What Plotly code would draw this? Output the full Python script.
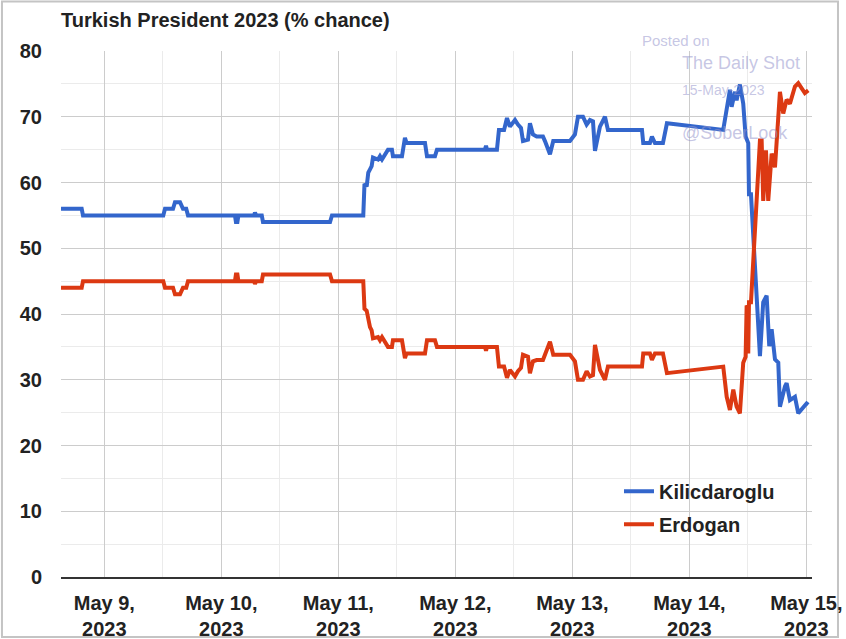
import pandas as pd
import plotly.graph_objects as go

BASE = pd.Timestamp("2023-05-09 00:00")

# Hours after May 9, 2023 00:00 and % chance
kil_hours = [-8.88, -4.64, -4.37, 12.10, 12.45, 14.09, 14.50, 15.53, 16.14, 16.80, 17.17,
             26.80, 27.00, 27.30, 27.50, 30.70, 30.90, 31.20, 32.30, 32.55, 46.30, 46.70,
             53.12, 53.37, 53.82, 54.15, 54.50, 54.84, 55.11, 56.14, 56.55, 56.96, 57.37,
             58.19, 59.00, 59.21, 61.06, 61.67, 62.00, 65.78, 66.19, 67.83, 68.24, 78.08,
             78.30, 78.50, 80.54, 80.95, 82.00, 82.60, 83.20, 84.24, 84.85, 85.47, 85.88,
             86.90, 87.31, 87.93, 88.69, 89.98, 90.39, 91.42, 92.09, 95.52, 96.54, 97.16,
             98.19, 98.94, 99.62, 100.24, 100.65, 101.06, 101.67, 102.70, 103.31, 110.29,
             110.55, 111.92, 112.33, 112.95, 114.59, 115.41, 126.96, 128.33, 128.68, 129.36,
             129.70, 130.38, 131.06, 131.55, 132.09, 132.24, 132.65, 134.49, 135.16, 135.86,
             136.40, 136.89, 137.57, 138.25, 138.59, 139.62, 139.96, 140.64, 141.67, 142.35,
             143.37, 144.06, 144.40]
kil_values = [56, 56, 55, 55, 56, 56, 57, 57, 56, 56, 55,
              55, 54, 54, 55, 55, 55.4, 55, 55, 54, 54, 55,
              55, 59.8, 59.4, 61.5, 62, 62.5, 63.8, 63.5, 64, 63.5, 64,
              65, 65, 64, 64, 66.8, 66, 66, 64, 64, 65, 65,
              65.6, 65, 65, 68, 68, 69.8, 68.5, 69.5, 68.8, 68.3, 66.3,
              66.5, 69, 67.3, 67, 67, 66.3, 64.3, 66.3, 66.3, 67.3, 70,
              70, 68.8, 69.5, 69.3, 64.8, 66.3, 68.5, 70, 68, 68,
              66, 66, 67, 66, 66, 69, 68, 74.1, 71.5, 73.8,
              72.5, 74.9, 72, 67, 66, 58.2, 58.2, 33.6, 41.8, 42.8,
              35.1, 37.7, 33.1, 32.6, 25.9, 29, 29.5, 26.9, 27.4, 24.9,
              25.9, 26.4, 26.2]

erd_hours = [-8.88, -4.64, -4.37, 12.10, 12.45, 14.09, 14.50, 15.53, 16.14, 16.80, 17.17,
             26.80, 27.00, 27.30, 27.50, 30.70, 30.90, 31.20, 32.30, 32.55, 46.30, 46.70,
             53.12, 53.37, 53.82, 54.15, 54.50, 54.84, 55.11, 56.14, 56.55, 56.96, 57.37,
             58.19, 59.00, 59.21, 61.06, 61.67, 62.00, 65.78, 66.19, 67.83, 68.24, 78.08,
             78.30, 78.50, 80.54, 80.95, 82.00, 82.60, 83.20, 84.24, 84.85, 85.47, 85.88,
             86.90, 87.31, 87.93, 88.69, 89.98, 90.39, 91.42, 92.09, 95.52, 96.54, 97.16,
             98.19, 98.94, 99.62, 100.24, 100.65, 101.06, 101.67, 102.70, 103.31, 110.29,
             110.55, 111.92, 112.33, 112.95, 114.59, 115.41, 126.96, 127.67, 128.33, 129.02,
             129.70, 130.38, 131.06, 131.55, 131.76, 132.00, 132.09, 132.24, 132.65, 134.49,
             134.84, 135.16, 135.72, 136.19, 136.89, 137.57, 137.91, 138.59, 139.27, 139.96,
             140.64, 141.67, 142.35, 143.04, 143.70, 144.40]
erd_values = [44, 44, 45, 45, 44, 44, 43, 43, 44, 44, 45,
              45, 46, 46, 45, 45, 44.6, 45, 45, 46, 46, 45,
              45, 40.8, 40.5, 38.8, 38, 37.5, 36.3, 36.5, 36, 36.5, 36,
              35, 35, 36, 36, 33.3, 34, 34, 36, 36, 35, 35,
              34.4, 35, 35, 32, 32, 30.3, 31.5, 30.5, 31.3, 31.8, 33.8,
              33.5, 31, 32.8, 33, 33, 33.8, 35.8, 33.8, 33.8, 32.8, 30,
              30, 31.3, 30.5, 30.7, 35.3, 33.8, 31.5, 30, 32, 32,
              34, 34, 33, 34, 34, 31, 32, 27.4, 25.4, 28.5,
              25.9, 24.9, 32.6, 33.5, 41.3, 41, 34, 41.8, 41.8, 66.4,
              66.4, 57.2, 64.9, 57.2, 64.4, 62.3, 66.9, 73.8, 70.5, 72.6,
              72, 74.6, 75.1, 74.4, 73.6, 74]

tick_dates = ["2023-05-09", "2023-05-10", "2023-05-11", "2023-05-12",
              "2023-05-13", "2023-05-14", "2023-05-15"]
tick_labels = ["May 9,<br>2023", "May 10,<br>2023", "May 11,<br>2023", "May 12,<br>2023",
               "May 13,<br>2023", "May 14,<br>2023", "May 15,<br>2023"]
y_ticks = [0, 10, 20, 30, 40, 50, 60, 70, 80]

kil_x = BASE + pd.to_timedelta(kil_hours, unit="h")
erd_x = BASE + pd.to_timedelta(erd_hours, unit="h")

FONT = "Arial, Liberation Sans, sans-serif"
BLUE = "#3366CC"
RED = "#DC3912"

fig = go.Figure()
fig.add_trace(go.Scatter(x=kil_x, y=kil_values, mode="lines", name="Kilicdaroglu",
                         legendgroup="k", line=dict(color=BLUE, width=4)))
fig.add_trace(go.Scatter(x=erd_x, y=erd_values, mode="lines", name="Erdogan",
                         legendgroup="e", line=dict(color=RED, width=4)))

wm = "rgba(150,150,205,0.55)"
annotations = [
    dict(text="Posted on", x=0.7710, y=1.0209, size=15),
    dict(text="The Daily Shot", x=0.8242, y=0.9772, size=18),
    dict(text="15-May-2023", x=0.8242, y=0.9259, size=14),
    dict(text="@SoberLook", x=0.8242, y=0.8441, size=18),
]

fig.update_layout(
    width=846, height=639,
    margin=dict(l=61, r=34, t=51, b=62, autoexpand=False),
    paper_bgcolor="white", plot_bgcolor="white",
    font=dict(family=FONT, color="#222222"),
    title=dict(text="<b>Turkish President 2023 (% chance)</b>", x=0, xref="paper",
               xanchor="left", y=1 - 20 / 639, yanchor="middle",
               font=dict(size=20, color="#222222", family=FONT)),
    showlegend=True,
    legend=dict(x=0.743, y=0.2, xanchor="left", yanchor="top",
                bgcolor="rgba(0,0,0,0)", font=dict(size=20, weight="bold", color="#222222"),
                tracegroupgap=4),
    xaxis=dict(
        type="date",
        range=["2023-05-08 15:07", "2023-05-15 01:10"],
        tickmode="array", tickvals=tick_dates, ticktext=tick_labels,
        tickfont=dict(size=20, weight="bold", color="#222222"),
        ticks="", ticklabelstandoff=7,
        showgrid=True, gridcolor="#cccccc", gridwidth=1,
        minor=dict(dtick=43200000, tick0="2023-05-09", showgrid=True,
                   gridcolor="#ebebeb", gridwidth=1),
        showline=True, linecolor="#333333", linewidth=1.5,
        zeroline=False, fixedrange=True, automargin=False,
    ),
    yaxis=dict(
        range=[0, 80], tickmode="array", tickvals=y_ticks,
        tickfont=dict(size=20, weight="bold", color="#222222"),
        ticks="", ticklabelstandoff=18,
        showgrid=True, gridcolor="#cccccc", gridwidth=1,
        minor=dict(dtick=5, showgrid=True, gridcolor="#ebebeb", gridwidth=1),
        zeroline=False, showline=False, fixedrange=True, automargin=False,
    ),
    shapes=[dict(type="rect", xref="paper", yref="paper",
                 x0=-0.0786, x1=1.0346, y0=-0.114, y1=1.094,
                 line=dict(color="#c4c4c4", width=2), fillcolor="rgba(0,0,0,0)",
                 layer="below")],
    annotations=[dict(text=a["text"], x=a["x"], y=a["y"], xref="paper", yref="paper",
                      xanchor="left", yanchor="middle", showarrow=False,
                      font=dict(size=a["size"], color=wm, family=FONT))
                 for a in annotations],
)

fig.write_html("out.html", config={"displayModeBar": False},
               post_script="document.body.style.margin='0';document.body.style.padding='0';")
